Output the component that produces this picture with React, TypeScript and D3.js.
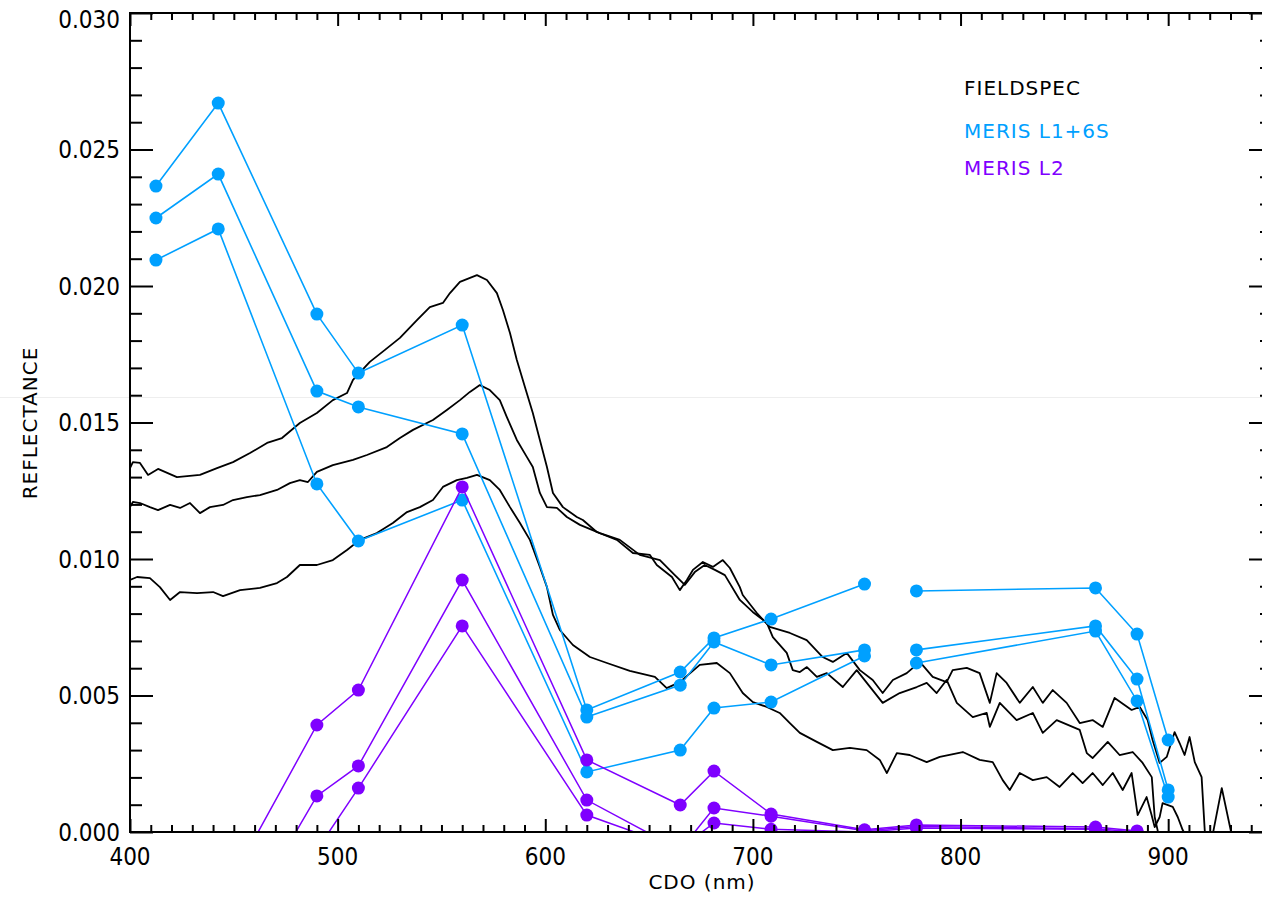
import React, { useRef, useEffect } from 'react';
import * as d3 from 'd3';

// MERIS band centres (nm)
const merisBands = [412.5, 442.5, 490, 510, 560, 620, 665, 681.25, 708.75, 753.75, 761.875, 778.75, 865, 885, 900];

// MERIS L1 + 6S atmospheric correction, three stations (NaN = band not retrieved)
const l1Station1 = [0.02366, 0.0267, 0.01897, 0.01681, 0.01857, 0.00447, 0.00586, 0.00711, 0.0078, 0.00908, NaN, 0.00883, 0.00894, 0.00725, 0.00337];
const l1Station2 = [0.02249, 0.0241, 0.01615, 0.01557, 0.01458, 0.00421, 0.00538, 0.00696, 0.00612, 0.00667, NaN, 0.00667, 0.00755, 0.0056, 0.00154];
const l1Station3 = [0.02095, 0.02209, 0.01275, 0.01066, 0.01216, 0.0022, 0.003, 0.00454, 0.00476, 0.00645, NaN, 0.00619, 0.00736, 0.0048, 0.00128];

// MERIS L2 standard product, same stations
const l2Station1 = [-0.005, -0.00266, 0.00392, 0.0052, 0.01264, 0.00264, 0.00099, 0.00223, 0.00066, 0.00008, NaN, 0.00026, 0.00018, 0.00004, -0.002];
const l2Station2 = [-0.007, -0.00487, 0.00132, 0.00242, 0.00923, 0.00117, -0.00066, 0.00088, 0.00058, 0.00005, NaN, 0.0002, 0.00012, 0.0, -0.003];
const l2Station3 = [-0.008, -0.006, -0.00066, 0.00161, 0.00755, 0.00062, -0.0006, 0.00033, 0.0001, 0.0, NaN, 0.00015, 0.0001, -0.0001, -0.003];

// FIELDSPEC in-situ spectra [nm, reflectance]
const fieldspec1: [number, number][] = [
  [400, 0.01333], [401.4, 0.01355], [404.8, 0.01352], [408.7, 0.01308], [413.5, 0.0133], [422.6, 0.013],
  [433.7, 0.01308], [441.9, 0.01333], [449.6, 0.01355], [457.8, 0.01388], [466, 0.01425], [473.2, 0.01443],
  [481.8, 0.01498], [490, 0.01535], [497.7, 0.01582], [504.5, 0.01608], [507.4, 0.01656], [515.5, 0.01722],
  [522.8, 0.01766], [530, 0.0181], [538.2, 0.01875], [544.4, 0.01923], [550.7, 0.01938], [554.1, 0.01974],
  [558.9, 0.02015], [567.1, 0.0204], [571.9, 0.02022], [576.7, 0.01974], [579.6, 0.01912], [583, 0.01828],
  [586.3, 0.01729], [590.2, 0.0163], [594, 0.01535], [597.4, 0.01436], [600.8, 0.01337], [603.7, 0.01242],
  [608.5, 0.0119], [615.2, 0.01154], [618.1, 0.01143], [624.8, 0.01099], [634.5, 0.0107], [642.2, 0.01022],
  [650.4, 0.01015], [653.7, 0.00978], [661, 0.00934], [664.8, 0.00886], [668.2, 0.00923], [671.1, 0.0096],
  [675.9, 0.00989], [680.7, 0.00971], [685.5, 0.00996], [688.9, 0.00967], [693.7, 0.00897], [695.1, 0.00868],
  [701.9, 0.00802], [708.1, 0.00751], [717.8, 0.00729], [725.9, 0.00703], [733.6, 0.00641], [738.5, 0.00623],
  [745.2, 0.00656], [751.5, 0.00593], [757.7, 0.00557], [762.5, 0.00509], [767.4, 0.00557], [774.1, 0.00582],
  [780.4, 0.00623], [786.6, 0.00568], [793.3, 0.00549], [796.2, 0.00593], [803, 0.00601], [809.2, 0.00582],
  [814.1, 0.00473], [817.4, 0.00582], [822.2, 0.00546], [828.5, 0.00473], [834.8, 0.00531], [839.6, 0.00473],
  [844.4, 0.0052], [851.1, 0.00473], [857.4, 0.00399], [863.6, 0.0041], [868.5, 0.00385], [874.2, 0.00491],
  [882.4, 0.00447], [886.3, 0.00458], [890.1, 0.0041], [892.5, 0.00337], [895.9, 0.00253], [899.3, 0.00275],
  [903.1, 0.00366], [905.5, 0.00326], [907.9, 0.00282], [910.3, 0.00348], [912.8, 0.00256], [916.1, 0.00201],
  [917.6, 0.00007], [919, -0.00103]
];
const fieldspec2: [number, number][] = [
  [400, 0.0119], [401.4, 0.01209], [404.8, 0.01205], [409.6, 0.0119], [413.5, 0.01179], [419.3, 0.01198],
  [424.1, 0.01187], [428.9, 0.01205], [433.7, 0.01168], [438.5, 0.0119], [444.8, 0.01198], [449.6, 0.01216],
  [456.3, 0.01227], [462.6, 0.01234], [470.8, 0.01253], [477, 0.01278], [481.8, 0.01289], [485.7, 0.01282],
  [490, 0.01319], [497.7, 0.01344], [507.4, 0.01363], [514.1, 0.01381], [523.7, 0.0141], [530, 0.01443],
  [536.3, 0.01473], [545.9, 0.01509], [552.6, 0.01546], [558.9, 0.01582], [563.7, 0.01612], [568.5, 0.01637],
  [573.3, 0.01619], [578.1, 0.01582], [581.5, 0.0152], [586.3, 0.01436], [591.1, 0.01374], [594, 0.01337],
  [597.4, 0.01242], [600.8, 0.0119], [605.6, 0.01187], [610.4, 0.01154], [616.7, 0.01125], [626.3, 0.01095],
  [635.9, 0.0107], [645.5, 0.01015], [655.2, 0.00996], [662.4, 0.00941], [667.2, 0.00905], [672, 0.00952],
  [676.8, 0.00978], [681.7, 0.0096], [686.5, 0.00941], [693.7, 0.0085], [699.9, 0.00806], [706.7, 0.00766],
  [709.6, 0.00714], [716.3, 0.00656], [719.2, 0.00593], [722.6, 0.00586], [726, 0.00604], [730.8, 0.00568],
  [735.6, 0.00582], [743.3, 0.00531], [750, 0.00593], [762.5, 0.00473], [770.7, 0.00509], [778.9, 0.00531],
  [783.7, 0.00546], [788.5, 0.00509], [793.3, 0.00557], [798.2, 0.00473], [805.9, 0.00421], [812.6, 0.00436],
  [814.1, 0.00385], [818.9, 0.00473], [827, 0.0041], [834.8, 0.00436], [839.6, 0.00363], [846.3, 0.0041],
  [857.4, 0.00374], [860.8, 0.00289], [863.6, 0.00271], [870.9, 0.0033], [876.6, 0.00282], [882.9, 0.00293],
  [887.7, 0.00253], [892.1, 0.00201], [893.5, 0.00055], [894.9, 0.00007], [896.4, -0.00066]
];
const fieldspec3: [number, number][] = [
  [400, 0.00923], [403.4, 0.00934], [409.6, 0.0093], [414.4, 0.00897], [419.3, 0.0085], [424.1, 0.00879],
  [432.3, 0.00875], [440, 0.00879], [444.8, 0.00864], [453, 0.00886], [462.6, 0.00894], [470.8, 0.00912],
  [475.6, 0.00934], [481.8, 0.00978], [490, 0.00978], [497.7, 0.00996], [504.5, 0.01033], [510.7, 0.0107],
  [518.9, 0.01095], [526.6, 0.01132], [533.4, 0.01172], [539.6, 0.0119], [545.9, 0.01216], [550.7, 0.01264],
  [557.4, 0.01289], [562.3, 0.01297], [567.1, 0.01308], [573.3, 0.01289], [578.1, 0.01253], [583, 0.0119],
  [587.8, 0.01132], [592.6, 0.0107], [597.4, 0.00971], [600.8, 0.00897], [603.7, 0.00795], [607, 0.0074],
  [613.3, 0.00685], [621.5, 0.00641], [629.7, 0.00619], [640.7, 0.0059], [652.8, 0.00568], [658.5, 0.00527],
  [664.8, 0.00549], [674.4, 0.00612], [682.6, 0.00619], [688.9, 0.00582], [695.1, 0.00509], [700, 0.00476],
  [706.7, 0.00458], [712.9, 0.00436], [717.8, 0.00399], [722.6, 0.00363], [730.8, 0.0033], [738.5, 0.003],
  [746.7, 0.00308], [754.8, 0.003], [761.1, 0.00264], [764.5, 0.00216], [769.3, 0.00289], [775.5, 0.00282],
  [783.7, 0.00256], [790, 0.00275], [801.1, 0.00293], [809.2, 0.00264], [815.5, 0.00256], [820.3, 0.0019],
  [823.7, 0.00154], [828.5, 0.00216], [834.8, 0.0019], [841.5, 0.00201], [847.7, 0.00165], [854, 0.00216],
  [858.8, 0.00179], [863.6, 0.00216], [868.5, 0.00172], [873.3, 0.00216], [878.1, 0.00154], [882.4, 0.00216],
  [885.3, 0.00062], [889.6, 0.00128], [892, 0.00062], [893.5, 0.00018], [895.9, 0.00055], [897.3, 0.00106],
  [902.2, 0.00092], [904.6, 0.00055], [907, 0.00007], [912.8, -0.00066], [921.4, -0.00011], [925.8, 0.00161],
  [930.6, -0.00011], [934.4, -0.00066]
];

const xTicks = [400, 500, 600, 700, 800, 900];
const yTicks = [0, 0.005, 0.01, 0.015, 0.02, 0.025, 0.03];
const legendLabels = ['FIELDSPEC', 'MERIS L1+6S', 'MERIS L2'];

const BLUE = '#00a0ff';
const PURPLE = '#7f00ff';
const legendColors = ['#000000', BLUE, PURPLE];

const numFont = "'DejaVu Sans Condensed', 'DejaVu Sans', sans-serif";
const textFont = "'DejaVu Sans', sans-serif";

const ReflectanceChart = () => {
  const svgRef = useRef<SVGSVGElement>(null);

  useEffect(() => {
    const width = 1262;
    const height = 897;
    // plot box; right edge of the frame lies just outside the picture
    const left = 130, top = 13, bottom = 832, right = 1272;

    const svg = d3.select(svgRef.current);
    svg.selectAll('*').remove();
    svg.attr('width', width).attr('height', height);

    const x = d3.scaleLinear().domain([400, 950]).range([left, right]);
    const y = d3.scaleLinear().domain([0, 0.03]).range([bottom, top]);

    svg.append('rect').attr('width', width).attr('height', height).attr('fill', '#fff');

    // faint seam line seen in the original screenshot
    svg.append('line')
      .attr('x1', 0).attr('x2', width).attr('y1', 397.5).attr('y2', 397.5)
      .attr('stroke', '#eeeeee').attr('stroke-width', 1);

    svg.append('clipPath').attr('id', 'plot-clip')
      .append('rect')
      .attr('x', left).attr('y', top)
      .attr('width', right - left).attr('height', bottom - top);

    const plot = svg.append('g').attr('clip-path', 'url(#plot-clip)');

    // FIELDSPEC spectra
    const specLine = d3.line<[number, number]>()
      .x(d => x(d[0]))
      .y(d => y(d[1]));

    [fieldspec1, fieldspec2, fieldspec3].forEach(s => {
      plot.append('path')
        .attr('d', specLine(s))
        .attr('fill', 'none')
        .attr('stroke', '#000')
        .attr('stroke-width', 1.8)
        .attr('stroke-linejoin', 'round');
    });

    // MERIS L1+6S: gap where band is missing
    const bandLine = d3.line<number>()
      .defined(v => !isNaN(v))
      .x((_, i) => x(merisBands[i]))
      .y(v => y(v));

    const drawMarkers = (vals: number[], color: string) => {
      plot.selectAll(null)
        .data(vals.map((v, i) => [merisBands[i], v]).filter(d => !isNaN(d[1])))
        .enter()
        .append('circle')
        .attr('cx', d => x(d[0]))
        .attr('cy', d => y(d[1]))
        .attr('r', 6.5)
        .attr('fill', color);
    };

    [l1Station1, l1Station2, l1Station3].forEach(s => {
      plot.append('path')
        .attr('d', bandLine(s))
        .attr('fill', 'none')
        .attr('stroke', BLUE)
        .attr('stroke-width', 1.6);
      drawMarkers(s, BLUE);
    });

    // MERIS L2: missing band skipped, line continues
    [l2Station1, l2Station2, l2Station3].forEach(s => {
      const pts: [number, number][] = s
        .map((v, i) => [merisBands[i], v] as [number, number])
        .filter(d => !isNaN(d[1]));
      plot.append('path')
        .attr('d', specLine(pts))
        .attr('fill', 'none')
        .attr('stroke', PURPLE)
        .attr('stroke-width', 1.5);
      drawMarkers(s, PURPLE);
    });

    // axes: ticks point into the plot
    const xMinor = d3.range(400, 951, 10).filter(v => v % 100 !== 0);
    const yMinor = d3.range(0, 31).map(v => v / 1000).filter((_, i) => i % 5 !== 0);

    const noLabel = () => '';
    const addAxis = (axis: d3.Axis<d3.NumberValue>, tx: number, ty: number) => {
      const g = svg.append('g').attr('transform', `translate(${tx},${ty})`).call(axis);
      g.select('.domain').remove();
      g.selectAll('line').attr('stroke', '#000').attr('stroke-width', 2);
      return g;
    };

    addAxis(d3.axisBottom(x).tickValues(xMinor).tickSize(-7).tickFormat(noLabel), 0, bottom);
    addAxis(d3.axisBottom(x).tickValues(xTicks).tickSize(-13).tickFormat(noLabel), 0, bottom);
    addAxis(d3.axisTop(x).tickValues(xMinor).tickSize(-7).tickFormat(noLabel), 0, top);
    addAxis(d3.axisTop(x).tickValues(xTicks).tickSize(-13).tickFormat(noLabel), 0, top);
    addAxis(d3.axisLeft(y).tickValues(yMinor).tickSize(-12).tickFormat(noLabel), left, 0);
    addAxis(d3.axisLeft(y).tickValues(yTicks).tickSize(-23).tickFormat(noLabel), left, 0);
    addAxis(d3.axisRight(y).tickValues(yMinor).tickSize(-12).tickFormat(noLabel), right, 0);
    addAxis(d3.axisRight(y).tickValues(yTicks).tickSize(-23).tickFormat(noLabel), right, 0);

    svg.append('rect')
      .attr('x', left).attr('y', top)
      .attr('width', right - left).attr('height', bottom - top)
      .attr('fill', 'none').attr('stroke', '#000').attr('stroke-width', 2);

    // tick labels
    svg.selectAll(null)
      .data(xTicks)
      .enter()
      .append('text')
      .attr('x', d => x(d))
      .attr('y', bottom + 33)
      .attr('text-anchor', 'middle')
      .attr('font-family', numFont)
      .attr('font-stretch', 'condensed')
      .attr('font-size', 24)
      .attr('fill', '#000')
      .text(d => d3.format('d')(d));

    svg.selectAll(null)
      .data(yTicks)
      .enter()
      .append('text')
      .attr('x', left - 10)
      .attr('y', d => Math.max(y(d), 19) + 8.5)
      .attr('text-anchor', 'end')
      .attr('font-family', numFont)
      .attr('font-stretch', 'condensed')
      .attr('font-size', 24)
      .attr('fill', '#000')
      .text(d => d3.format('.3f')(d));

    // axis titles
    svg.append('text')
      .attr('x', 702)
      .attr('y', 889)
      .attr('text-anchor', 'middle')
      .attr('font-family', textFont)
      .attr('font-size', 20)
      .attr('letter-spacing', 1)
      .attr('fill', '#000')
      .text('CDO (nm)');

    svg.append('text')
      .attr('transform', 'translate(37,423) rotate(-90)')
      .attr('text-anchor', 'middle')
      .attr('font-family', textFont)
      .attr('font-size', 20)
      .attr('letter-spacing', 1)
      .attr('fill', '#000')
      .text('REFLECTANCE');

    // legend
    svg.selectAll(null)
      .data(legendLabels)
      .enter()
      .append('text')
      .attr('x', 964)
      .attr('y', (_, i) => [95, 138, 175][i])
      .attr('font-family', textFont)
      .attr('font-size', 20)
      .attr('letter-spacing', 1)
      .attr('fill', (_, i) => legendColors[i])
      .text(d => d);
  }, []);

  return <svg ref={svgRef} style={{ position: 'absolute', left: 0, top: 0, display: 'block' }} />;
};

export default function App() {
  return <ReflectanceChart />;
}
